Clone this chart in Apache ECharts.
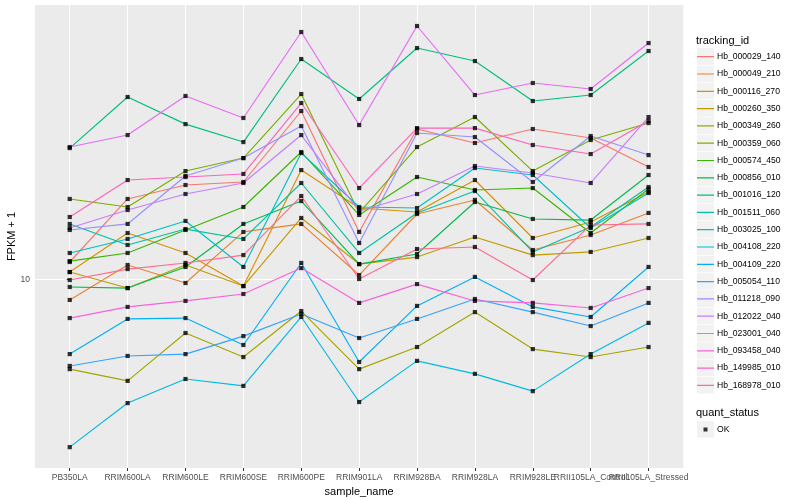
<!DOCTYPE html>
<html><head><meta charset="utf-8">
<script src="https://cdn.jsdelivr.net/npm/echarts@6/dist/echarts.min.js"></script>
<style>html,body{margin:0;padding:0;background:#fff}#c{width:800px;height:500px}</style>
</head><body><div id="c"></div>
<script>
const samples = ['PB350LA','RRIM600LA','RRIM600LE','RRIM600SE','RRIM600PE','RRIM901LA','RRIM928BA','RRIM928LA','RRIM928LE','RRII105LA_Control','RRII105LA_Stressed'];
const trackingIds = ['Hb_000029_140','Hb_000049_210','Hb_000116_270','Hb_000260_350','Hb_000349_260','Hb_000359_060','Hb_000574_450','Hb_000856_010','Hb_001016_120','Hb_001511_060','Hb_003025_100','Hb_004108_220','Hb_004109_220','Hb_005054_110','Hb_011218_090','Hb_012022_040','Hb_023001_040','Hb_093458_040','Hb_149985_010','Hb_168978_010'];
const colors = ['#F8766D','#EA8331','#D89000','#C09B00','#A3A500','#7CAE00','#39B600','#00BB4E','#00BF7D','#00C1A3','#00BFC4','#00BAE0','#00B0F6','#35A2FF','#9590FF','#C77CFF','#E76BF3','#FA62DB','#FF62BC','#FF6C91'];
const yTicks = [10];
const quantStatus = ['OK'];

const Hb_000029_140 = [11.06,15.90,17.23,17.53,26.38,13.15,23.78,21.94,23.78,22.58,19.11];
const Hb_000049_210 = [8.89,10.87,9.80,13.15,13.77,10.26,14.58,15.81,11.85,12.92,14.67];
const Hb_000116_270 = [10.44,13.07,11.65,9.63,18.78,15.09,14.75,17.73,12.70,13.92,16.55];
const Hb_000260_350 = [10.44,9.52,10.87,9.63,14.25,10.93,11.38,12.77,11.51,11.72,12.70];
const Hb_000349_260 = [5.97,5.58,7.35,6.40,8.34,5.97,6.78,8.29,6.70,6.40,6.78];
const Hb_000359_060 = [15.90,15.18,18.67,20.12,29.09,14.67,21.44,25.48,18.67,22.32,24.61];
const Hb_000574_450 = [11.12,11.65,13.30,15.18,20.83,14.50,18.04,16.74,16.93,13.07,16.84];
const Hb_000856_010 = [9.58,9.52,10.75,13.77,15.71,10.93,11.58,15.62,14.17,14.08,18.25];
const Hb_001016_120 = [21.31,28.59,24.46,22.06,35.58,28.27,37.90,35.17,27.94,28.92,37.26];
const Hb_001511_060 = [13.77,12.20,13.37,12.63,17.43,11.65,14.67,16.64,11.72,13.53,17.03];
const Hb_003025_100 = [11.65,12.63,14.01,10.75,20.71,15.18,15.09,19.00,18.25,13.45,16.45];
const Hb_004108_220 = [3.81,4.91,5.64,5.42,8.06,4.94,6.26,5.81,5.26,6.51,7.79];
const Hb_004109_220 = [6.51,7.97,8.01,6.86,11.00,6.22,8.59,10.15,8.54,8.06,10.75];
const Hb_005054_110 = [6.08,6.44,6.51,7.22,8.20,7.14,7.97,8.94,8.29,7.65,8.74];
const Hb_011218_090 = [13.30,13.77,18.15,20.12,24.19,12.34,23.24,22.71,17.53,22.84,20.47];
const Hb_012022_040 = [13.45,14.92,16.36,17.43,22.97,14.83,16.36,19.22,18.46,17.43,25.48];
const Hb_023001_040 = [21.44,22.97,28.76,25.34,41.57,24.33,43.03,28.92,30.99,29.94,39.01];
const Hb_093458_040 = [8.01,8.54,8.84,9.20,10.68,8.74,9.74,8.84,8.74,8.49,9.52];
const Hb_149985_010 = [14.33,17.73,18.04,18.36,27.62,16.93,23.91,23.91,21.69,20.59,24.90];
const Hb_168978_010 = [9.97,10.62,11.00,11.51,16.17,10.03,11.92,12.06,9.97,13.69,13.77];

const seriesValues = [Hb_000029_140,Hb_000049_210,Hb_000116_270,Hb_000260_350,Hb_000349_260,Hb_000359_060,Hb_000574_450,Hb_000856_010,Hb_001016_120,Hb_001511_060,Hb_003025_100,Hb_004108_220,Hb_004109_220,Hb_005054_110,Hb_011218_090,Hb_012022_040,Hb_023001_040,Hb_093458_040,Hb_149985_010,Hb_168978_010];

const idx = samples.map((s, i) => i);
const evenIdx = idx.filter(i => i % 2 === 0);
const oddIdx = idx.filter(i => i % 2 === 1);
const font = "'Liberation Sans', Arial, Helvetica, sans-serif";

const lineSeries = trackingIds.map((id, k) => ({
  name: id,
  type: 'line',
  xAxisIndex: 0,
  data: seriesValues[k].map((v, i) => [i, v]),
  color: colors[k],
  showSymbol: false,
  lineStyle: { width: 1.15, color: colors[k] },
  silent: true,
  emphasis: { disabled: true },
  z: 2
}));

const pointData = [];
seriesValues.forEach(vals => vals.forEach((v, i) => pointData.push([i, v])));

const pointSeries = {
  name: quantStatus[0],
  type: 'scatter',
  xAxisIndex: 0,
  data: pointData,
  symbol: 'rect',
  symbolSize: 4.2,
  itemStyle: { color: '#000' },
  silent: true,
  emphasis: { disabled: true },
  z: 3
};

const keyTop = 48.2, keyStep = 17.3;
const keyBoxes = trackingIds.map((id, i) => ({
  type: 'rect', left: 697, top: keyTop + i * keyStep,
  shape: { width: 17, height: 16.6 }, style: { fill: '#F2F2F2' }, silent: true
}));
keyBoxes.push({ type: 'rect', left: 697, top: 421, shape: { width: 17, height: 16.6 }, style: { fill: '#F2F2F2' }, silent: true });

const xLabelStyle = { formatter: v => samples[Math.round(v)] || '', fontSize: 8.5, color: '#4D4D4D', margin: 5, fontFamily: font, hideOverlap: false, showMinLabel: true, showMaxLabel: true };

const option = {
  animation: false,
  backgroundColor: '#fff',
  textStyle: { fontFamily: font },
  title: [
    { text: 'tracking_id', left: 696, top: 35, padding: 0, textStyle: { fontSize: 11, fontWeight: 'normal', color: '#000', fontFamily: font } },
    { text: 'quant_status', left: 696, top: 407, padding: 0, textStyle: { fontSize: 11, fontWeight: 'normal', color: '#000', fontFamily: font } }
  ],
  grid: { left: 35, right: 116.7, top: 5, bottom: 32, show: true, backgroundColor: '#EBEBEB', borderWidth: 0, containLabel: false, outerBoundsMode: 'none' },
  xAxis: [
    {
      type: 'value', min: -0.6, max: 10.6, position: 'bottom',
      name: 'sample_name', nameLocation: 'middle', nameGap: 17,
      nameTextStyle: { fontSize: 11, color: '#000', fontFamily: font },
      axisLine: { show: false },
      axisTick: { show: true, length: 3, customValues: idx, lineStyle: { color: '#333333', width: 1 } },
      axisLabel: Object.assign({ customValues: evenIdx }, xLabelStyle),
      splitLine: { show: true, lineStyle: { color: '#FFFFFF', width: 1.1 } }
    },
    {
      type: 'value', min: -0.6, max: 10.6, position: 'bottom', offset: 0,
      axisLine: { show: false },
      axisTick: { show: false },
      axisLabel: Object.assign({ customValues: oddIdx }, xLabelStyle),
      splitLine: { show: false }
    }
  ],
  yAxis: {
    type: 'log', logBase: 10, min: 3.379, max: 48.56,
    name: 'FPKM + 1', nameLocation: 'middle', nameGap: 17.5, nameMoveOverlap: false,
    nameTextStyle: { fontSize: 11, color: '#000', fontFamily: font },
    axisLine: { show: false },
    axisTick: { show: true, length: 3, customValues: yTicks, lineStyle: { color: '#333333', width: 1 } },
    axisLabel: { customValues: yTicks, formatter: v => String(Math.round(v)), fontSize: 8.5, color: '#4D4D4D', margin: 5, fontFamily: font },
    splitLine: { show: true, lineStyle: { color: '#FFFFFF', width: 1.1 } }
  },
  legend: [
    {
      data: trackingIds, orient: 'vertical', left: 697, top: keyTop, padding: 0,
      itemWidth: 17, itemHeight: 17, itemGap: keyStep - 17,
      icon: 'path://M0,0h0.01v0.01h-0.01Z M16.99,16.99h0.01v0.01h-0.01Z M0,7.9H17V9.1H0Z',
      itemStyle: { borderWidth: 0 },
      textStyle: { fontSize: 8.6, color: '#000', fontFamily: font, padding: [0, 0, 0, -2] },
      selectedMode: false
    },
    {
      data: quantStatus, orient: 'vertical', left: 697, top: 421, padding: 0,
      itemWidth: 17, itemHeight: 17,
      icon: 'path://M0,0h0.01v0.01h-0.01Z M16.99,16.99h0.01v0.01h-0.01Z M6.5,6.5h4v4h-4Z',
      itemStyle: { borderWidth: 0 },
      textStyle: { fontSize: 8.6, color: '#000', fontFamily: font, padding: [0, 0, 0, -2] },
      selectedMode: false
    }
  ],
  graphic: keyBoxes,
  series: lineSeries.concat([pointSeries])
};

const chart = echarts.init(document.getElementById('c'), null, { renderer: 'canvas' });
chart.setOption(option);
</script>
</body></html>
